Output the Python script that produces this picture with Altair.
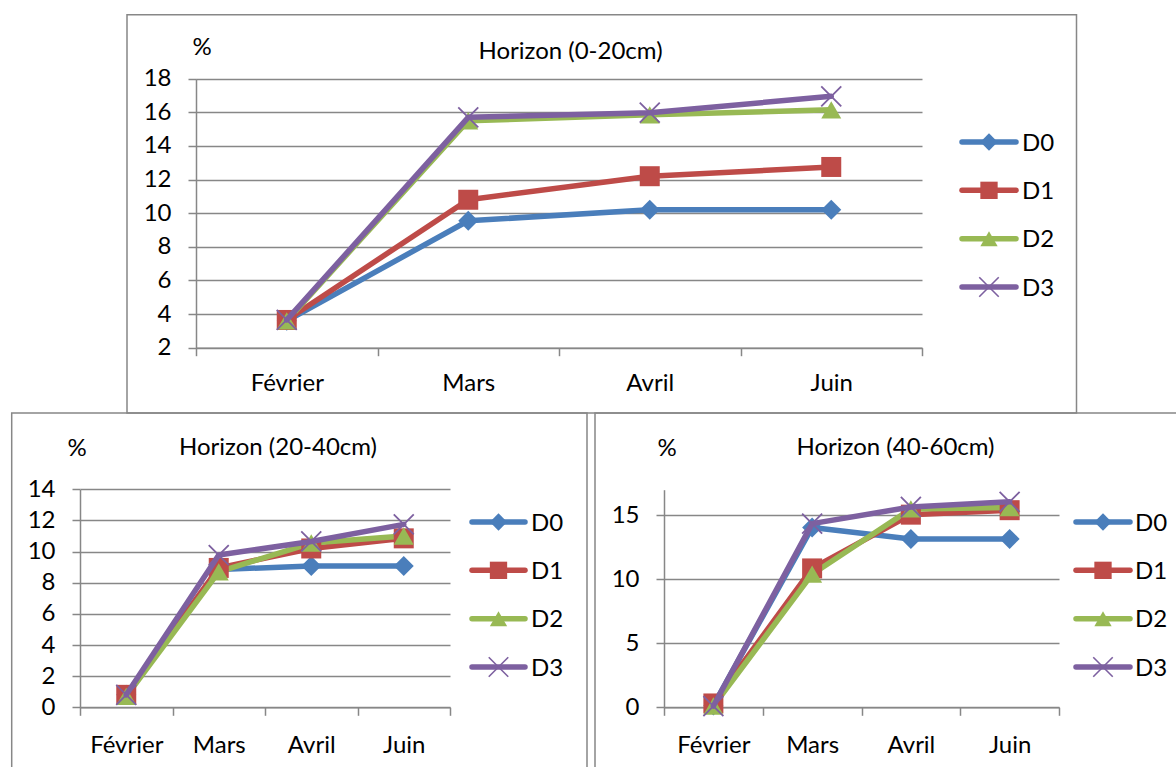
import altair as alt
import pandas as pd

# ---------------- data ----------------
months = ["Février", "Mars", "Avril", "Juin"]
series = ["D0", "D1", "D2", "D3"]
colors = ["#4A7EBB", "#BE4B48", "#98B954", "#7D60A0"]

h1_d0 = [3.6, 9.55, 10.2, 10.2]
h1_d1 = [3.65, 10.8, 12.2, 12.75]
h1_d2 = [3.6, 15.5, 15.85, 16.15]
h1_d3 = [3.65, 15.7, 15.98, 16.95]

h2_d0 = [0.8, 8.85, 9.07, 9.07]
h2_d1 = [0.8, 8.95, 10.2, 10.85]
h2_d2 = [0.7, 8.7, 10.55, 11.0]
h2_d3 = [0.8, 9.78, 10.65, 11.75]

h3_d0 = [0.15, 14.05, 13.15, 13.15]
h3_d1 = [0.3, 10.85, 15.05, 15.4]
h3_d2 = [0.1, 10.4, 15.5, 15.6]
h3_d3 = [0.1, 14.35, 15.65, 16.05]

titles = ["Horizon (0-20cm)", "Horizon (20-40cm)", "Horizon (40-60cm)"]
unit_label = "%"

y_dom_1 = [2, 18]
y_ticks_1 = [2, 4, 6, 8, 10, 12, 14, 16, 18]
y_dom_2 = [0, 14]
y_ticks_2 = [0, 2, 4, 6, 8, 10, 12, 14]
y_dom_3 = [0, 17]
y_ticks_3 = [0, 5, 10, 15]

# ---------------- layout (pixels) ----------------
W, H = 1176, 767
FONT = "Lato"
FS = 24
GRAY = "#878787"

layouts = [
    dict(xr=[196, 922], yr=[347.7, 78.7], lpad=16,
         leg_line=[962, 1016], leg_mark=989, leg_text=1022, leg_rows=[142, 287],
         pct=(202, 47.5), title=(570.5, 51.5), box=(127, 14.7, 1076.5, 413)),
    dict(xr=[80, 450], yr=[707.3, 489.3], lpad=18,
         leg_line=[472, 525], leg_mark=498.5, leg_text=531, leg_rows=[522, 667],
         pct=(77, 448.5), title=(278, 447.5), box=(11.7, 413, 587, 800)),
    dict(xr=[664, 1059], yr=[707.3, 489.7], lpad=18,
         leg_line=[1076, 1130], leg_mark=1103, leg_text=1135, leg_rows=[522, 667],
         pct=(667, 448.5), title=(895.5, 447.5), box=(595, 413, 1200, 800)),
]

panels_vals = [
    [h1_d0, h1_d1, h1_d2, h1_d3],
    [h2_d0, h2_d1, h2_d2, h2_d3],
    [h3_d0, h3_d1, h3_d2, h3_d3],
]
doms = [y_dom_1, y_dom_2, y_dom_3]
ticks = [y_ticks_1, y_ticks_2, y_ticks_3]

axis_style = dict(
    domainColor=GRAY, domainWidth=1.5, tickColor=GRAY, tickWidth=1.5, tickSize=8,
    gridColor=GRAY, gridWidth=1.5, labelFont=FONT, labelFontSize=FS,
    labelColor="#000000", title=None,
)

color_enc = alt.Color("serie:N", scale=alt.Scale(domain=series, range=colors), legend=None)
shape_enc = alt.Shape("serie:N", scale=alt.Scale(domain=series[:3],
                      range=["diamond", "square", "triangle-up"]), legend=None)
X_PATH = "M-1,-1L1,1M-1,1L1,-1"

one = alt.Data(values=[{"k": 1}])


def panel(vals, ydom, yticks, lay):
    rows = []
    for s, arr in zip(series, vals):
        for i, (m, v) in enumerate(zip(months, arr)):
            rows.append({"serie": s, "mois": m, "idx": i, "val": v})
    df = pd.DataFrame(rows)
    x = alt.X("mois:N", sort=months,
              scale=alt.Scale(domain=months, range=lay["xr"], paddingInner=0, paddingOuter=0),
              axis=alt.Axis(orient="bottom", offset=lay["yr"][0] - H, tickBand="extent",
                            labelAngle=0, grid=False, labelPadding=lay["lpad"],
                            labelBaseline="top", **axis_style))
    y = alt.Y("val:Q",
              scale=alt.Scale(domain=ydom, range=lay["yr"], nice=False, zero=False),
              axis=alt.Axis(orient="left", offset=-lay["xr"][0], values=yticks, grid=True,
                            labelPadding=17, **axis_style))
    base = alt.Chart(df).encode(x=x, y=y, color=color_enc, order=alt.Order("idx:Q"))
    first = base.transform_filter(alt.FieldOneOfPredicate(field="serie", oneOf=series[:3]))
    last = base.transform_filter(alt.FieldEqualPredicate(field="serie", equal=series[3]))
    l1 = first.mark_line(strokeWidth=5.5, strokeJoin="round", strokeCap="round")
    m1 = first.mark_point(filled=True, size=400, opacity=1).encode(shape=shape_enc)
    l2 = last.mark_line(strokeWidth=5.5, strokeJoin="round", strokeCap="round")
    m2 = last.mark_point(shape=X_PATH, filled=False, size=400, strokeWidth=1.8, opacity=1)
    return alt.layer(l1, m1, l2, m2)


def legend(lay):
    df = pd.DataFrame({"serie": series})
    y = alt.Y("serie:N", scale=alt.Scale(type="point", domain=series, range=lay["leg_rows"], padding=0),
              axis=None)
    base = alt.Chart(df).encode(y=y, color=color_enc)
    rule = base.mark_rule(strokeWidth=5.5, strokeCap="round").encode(
        x=alt.value(lay["leg_line"][0]), x2=alt.value(lay["leg_line"][1]))
    pts = base.transform_filter(alt.FieldOneOfPredicate(field="serie", oneOf=series[:3])).mark_point(
        filled=True, size=300, opacity=1).encode(x=alt.value(lay["leg_mark"]), shape=shape_enc)
    xs = base.transform_filter(alt.FieldEqualPredicate(field="serie", equal=series[3])).mark_point(
        shape=X_PATH, filled=False, size=380, strokeWidth=1.6, opacity=1).encode(x=alt.value(lay["leg_mark"]))
    txt = base.mark_text(align="left", baseline="middle", font=FONT, fontSize=FS, dy=1.5,
                         color="#000000").encode(x=alt.value(lay["leg_text"]), text="serie:N",
                                                  color=alt.value("#000000"))
    return alt.layer(rule, pts, xs, txt)


def decor(lay, title):
    x0, y0, x1, y1 = lay["box"]
    box = alt.Chart(one).mark_rect(fill=None, stroke=GRAY, strokeWidth=1.5).encode(
        x=alt.value(x0), x2=alt.value(x1), y=alt.value(y0), y2=alt.value(y1))
    pct = alt.Chart(one).mark_text(text=unit_label, font=FONT, fontSize=FS, color="#000000",
                                   align="center", baseline="middle").encode(
        x=alt.value(lay["pct"][0]), y=alt.value(lay["pct"][1]))
    ttl = alt.Chart(one).mark_text(text=title, font=FONT, fontSize=FS, color="#000000",
                                   align="center", baseline="middle").encode(
        x=alt.value(lay["title"][0]), y=alt.value(lay["title"][1]))
    return [box, pct, ttl]


layers = []
for i in range(3):
    layers += decor(layouts[i], titles[i])
for i in range(3):
    layers.append(panel(panels_vals[i], doms[i], ticks[i], layouts[i]))
    layers.append(legend(layouts[i]))

chart = alt.layer(*layers).resolve_scale(x="independent", y="independent").properties(
    width=W, height=H, autosize=alt.AutoSizeParams(type="none"), padding=0,
    background="white",
).configure_view(stroke=None)

chart.save("out.html", embed_options={"renderer": "svg", "actions": False})
